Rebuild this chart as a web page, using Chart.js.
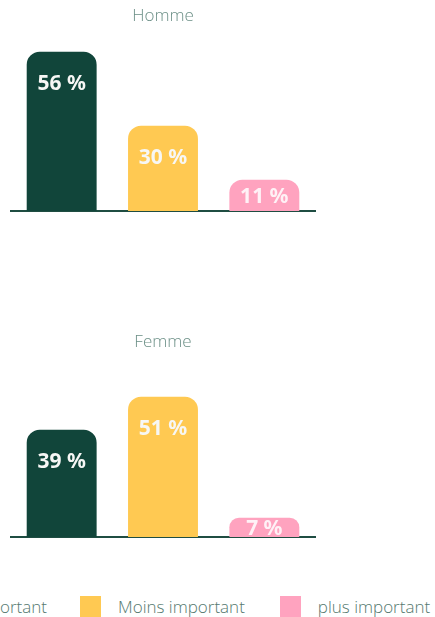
<!DOCTYPE html>
<html>
<head>
<meta charset="utf-8">
<script src="https://cdn.jsdelivr.net/npm/chart.js@4.4.0/dist/chart.umd.min.js"></script>
<style>
  body { margin: 0; width: 435px; height: 617px; overflow: hidden; background: #fff; position: relative; font-family: "Open Sans", sans-serif; }
  .box { position: absolute; left: 0; width: 330px; height: 220px; }
  #homme { top: 0; }
  #femme { top: 326px; }
  .legend { position: absolute; top: 596px; display: flex; align-items: flex-start; color: #55796f; font-size: 17px; font-weight: 300; white-space: nowrap; }
  .legend .item { display: flex; align-items: center; line-height: 21px; }
  .legend .sw { width: 21px; height: 21px; margin-right: 17px; flex: none; }
  .legend .item + .item { margin-left: 35px; }
  #legend-left { right: 388px; }
  #legend-right { left: 80px; }
</style>
</head>
<body>
<div class="box" id="homme"><canvas id="hommeChart"></canvas></div>
<div class="box" id="femme"><canvas id="femmeChart"></canvas></div>
<div class="legend" id="legend-left"></div>
<div class="legend" id="legend-right"></div>
<script>
const categories = ['Aussi important', 'Moins important', 'plus important'];
const colors = ['#11453a', '#ffc952', '#ffa3bf'];
const hommeValues = [56, 30, 11];
const femmeValues = [39, 51, 7];

// Draws "56 %" style labels inside the bars
const barLabels = {
    id: 'barLabels',
    afterDatasetsDraw(chart) {
        const c = chart.ctx;
        const meta = chart.getDatasetMeta(0);
        c.save();
        c.font = 'bold 21px "Noto Sans", sans-serif';
        c.textAlign = 'center';
        c.textBaseline = 'middle';
        meta.data.forEach((bar, i) => {
            const y = Math.min(bar.y + 32, (bar.y + bar.base) / 2 + 2);
            c.fillStyle = i === 2 ? 'rgba(255,255,255,0.85)' : '#f7f7f5';
            c.fillText(chart.data.datasets[0].data[i] + ' %', bar.x, y);
        });
        c.restore();
    }
};

function makeChart(id, title, values, yMax) {
    const ctx = document.getElementById(id).getContext('2d');
    return new Chart(ctx, {
        type: 'bar',
        data: {
            labels: categories,
            datasets: [{
                data: values,
                backgroundColor: colors,
                borderRadius: { topLeft: 13, topRight: 13 },
                borderSkipped: 'bottom',
                barPercentage: 0.69,
                categoryPercentage: 1
            }]
        },
        options: {
            responsive: true,
            maintainAspectRatio: false,
            animation: false,
            layout: { padding: { left: 11, right: 15, bottom: 9, top: 0 } },
            plugins: {
                legend: { display: false },
                tooltip: { enabled: false },
                title: {
                    display: true,
                    text: title,
                    color: '#6b8f86',
                    font: { family: '"Open Sans", sans-serif', size: 17, weight: '300' },
                    padding: { top: 6, bottom: 14 }
                }
            },
            scales: {
                x: {
                    grid: { display: false, drawTicks: false },
                    ticks: { display: false },
                    border: { display: true, color: '#1f4d42', width: 2 }
                },
                y: {
                    display: false,
                    min: 0,
                    max: yMax
                }
            }
        },
        plugins: [barLabels]
    });
}

makeChart('hommeChart', 'Homme', hommeValues, 60);
makeChart('femmeChart', 'Femme', femmeValues, 62);

// HTML legend (the first item is cut off on the left, as in the original)
function legendItem(i) {
    const item = document.createElement('div');
    item.className = 'item';
    const sw = document.createElement('span');
    sw.className = 'sw';
    sw.style.background = colors[i];
    const txt = document.createElement('span');
    txt.textContent = categories[i];
    item.appendChild(sw);
    item.appendChild(txt);
    return item;
}
document.getElementById('legend-left').appendChild(legendItem(0));
document.getElementById('legend-right').appendChild(legendItem(1));
document.getElementById('legend-right').appendChild(legendItem(2));
</script>
</body>
</html>
